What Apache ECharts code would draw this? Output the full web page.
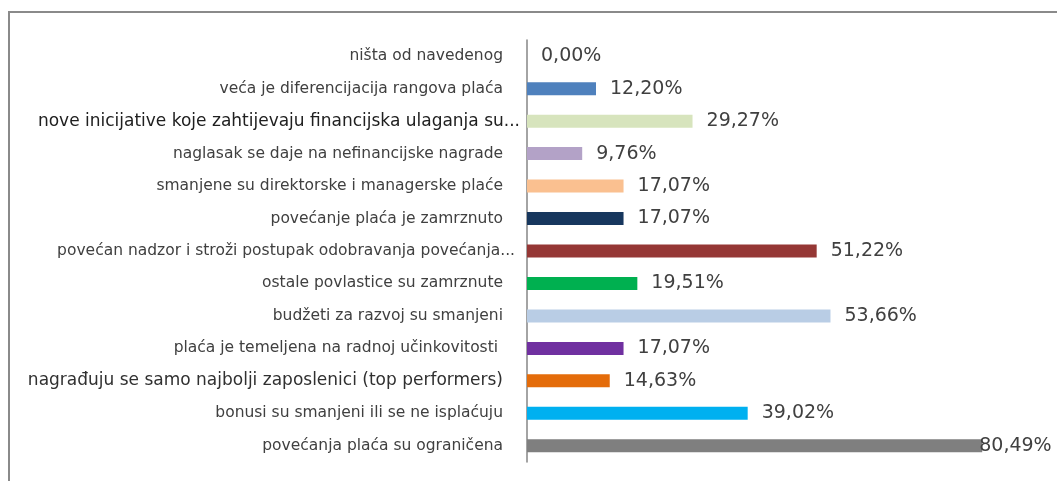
<!DOCTYPE html>
<html>
<head>
<meta charset="utf-8">
<style>
  html, body { margin: 0; padding: 0; background: #fff; overflow: hidden; }
  #chart { position: absolute; left: 0; top: 0; width: 1057px; height: 481px; }
  #frame {
    position: absolute; left: 8px; top: 11px; width: 1200px; height: 600px;
    border-top: 2px solid #8a8a8a; border-left: 2px solid #8a8a8a;
    pointer-events: none;
  }
</style>
</head>
<body>
<div id="chart"></div>
<div id="frame"></div>
<script src="https://cdn.jsdelivr.net/npm/echarts@6/dist/echarts.min.js"></script>
<script>
var categories = [
  'ništa od navedenog',
  'veća je diferencijacija rangova plaća',
  'nove inicijative koje zahtijevaju financijska ulaganja su...',
  'naglasak se daje na nefinancijske nagrade',
  'smanjene su direktorske i managerske plaće',
  'povećanje plaća je zamrznuto',
  'povećan nadzor i stroži postupak odobravanja povećanja...',
  'ostale povlastice su zamrznute',
  'budžeti za razvoj su smanjeni',
  'plaća je temeljena na radnoj učinkovitosti ',
  'nagrađuju se samo najbolji zaposlenici (top performers)',
  'bonusi su smanjeni ili se ne isplaćuju',
  'povećanja plaća su ograničena'
];
var values = [0.00, 12.20, 29.27, 9.76, 17.07, 17.07, 51.22, 19.51, 53.66, 17.07, 14.63, 39.02, 80.49];

var colors = ['#4f81bd', '#4f81bd', '#d7e4bd', '#b3a2c7', '#fac090', '#17375e', '#953735',
              '#00b050', '#b9cde5', '#7030a0', '#e46c0a', '#00b0f0', '#7f7f7f'];

// two labels come out larger in the original
var bigLabels = [2, 10];

var barData = values.map(function(v, i) {
  var item = { value: v, itemStyle: { color: colors[i] } };
  // longest bar: label sits on the bar end
  if (v > 75) item.label = { distance: -3 };
  return item;
});

var chart = echarts.init(document.getElementById('chart'), null, { renderer: 'canvas' });
chart.setOption({
  animation: false,
  grid: { left: 527, right: 21, top: 40, bottom: 19 },
  xAxis: {
    type: 'value',
    min: 0,
    max: 90,
    show: false
  },
  yAxis: {
    type: 'category',
    inverse: true,
    data: categories,
    axisLine: { show: true, lineStyle: { color: '#868686', width: 1.5 } },
    axisTick: { show: false },
    axisLabel: {
      color: '#404040',
      fontFamily: 'DejaVu Sans',
      fontSize: 15.5,
      margin: 7,
      formatter: function(val, idx) {
        var big = bigLabels.indexOf(idx) >= 0;
        var trunc = val.slice(-3) === '...';
        var key = (big ? 'b' : 'n') + (trunc ? 't' : '');
        return '{' + key + '|' + val + '}';
      },
      rich: {
        n: { fontSize: 15.5, color: '#404040', padding: [0, 17, 0, 0] },
        nt: { fontSize: 15.5, color: '#404040', padding: [0, 5, 0, 0] },
        b: { fontSize: 17, color: '#303030', padding: [0, 17, 0, 0] },
        bt: { fontSize: 17, color: '#202020', padding: [0, 0, 0, 0] }
      }
    },
    splitLine: { show: false }
  },
  series: [{
    type: 'bar',
    data: barData,
    barWidth: 13,
    label: {
      show: true,
      position: 'right',
      distance: 14,
      color: '#404040',
      fontFamily: 'DejaVu Sans',
      fontSize: 19,
      formatter: function(p) {
        return p.value.toFixed(2).replace('.', ',') + '%';
      }
    }
  }]
});
</script>
</body>
</html>
